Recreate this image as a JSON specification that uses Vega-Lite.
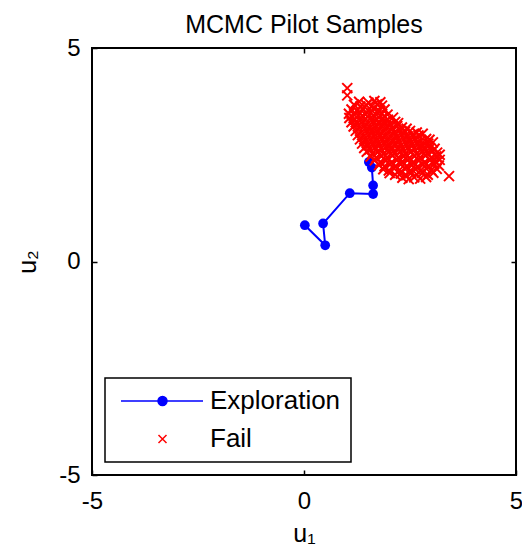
{
  "$schema": "https://vega.github.io/schema/vega-lite/v6.json",
  "width": 424,
  "height": 427,
  "autosize": {"type": "none"},
  "padding": {"left": 92, "top": 48, "right": 6, "bottom": 79},
  "background": "white",
  "title": {
    "text": "MCMC Pilot Samples",
    "fontSize": 25,
    "fontWeight": "normal",
    "font": "Liberation Sans",
    "color": "black",
    "anchor": "middle",
    "frame": "group",
    "offset": -2
  },
  "config": {
    "font": "Liberation Sans",
    "view": {"stroke": "black", "strokeWidth": 2},
    "axis": {
      "domain": false,
      "grid": false,
      "tickColor": "black",
      "tickWidth": 1.5,
      "tickSize": -5,
      "labelFont": "Liberation Sans",
      "labelFontSize": 24,
      "labelColor": "black",
      "labelFlush": false,
      "labelPadding": 17,
      "labelExpr": "replace(datum.label, '\u2212', '-')",
      "titleFont": "Liberation Sans",
      "titleFontSize": 25,
      "titleFontWeight": "normal",
      "titleColor": "black"
    },
    "legend": {
      "orient": "bottom-left",
      "offset": 13,
      "padding": 10,
      "fillColor": "white",
      "strokeColor": "black",
      "strokeWidth": 1.5,
      "labelFont": "Liberation Sans",
      "labelFontSize": 26,
      "labelColor": "black",
      "labelOffset": 69,
      "rowPadding": 12,
      "symbolOpacity": 1,
      "symbolStrokeWidth": 1.5
    }
  },
  "datasets": {
    "exploration": [
      {"step": 1, "u1": 0.02, "u2": 0.85},
      {"step": 2, "u1": 0.5, "u2": 0.38},
      {"step": 3, "u1": 0.45, "u2": 0.89},
      {"step": 4, "u1": 1.08, "u2": 1.6},
      {"step": 5, "u1": 1.63, "u2": 1.58},
      {"step": 6, "u1": 1.63, "u2": 1.78},
      {"step": 7, "u1": 1.6, "u2": 2.2},
      {"step": 8, "u1": 1.53, "u2": 2.33}
    ],
    "fail": [
      {"u1": 1.02, "u2": 4.06}, {"u1": 1.02, "u2": 3.89}, {"u1": 3.42, "u2": 2.0},
      {"u1": 2.32, "u2": 1.96}, {"u1": 2.47, "u2": 1.93}, {"u1": 2.6, "u2": 1.97}, {"u1": 2.74, "u2": 1.94}, {"u1": 2.88, "u2": 1.98},
      {"u1": 2.02, "u2": 2.07}, {"u1": 2.15, "u2": 2.03}, {"u1": 2.28, "u2": 2.06}, {"u1": 2.41, "u2": 2.02}, {"u1": 2.53, "u2": 2.08}, {"u1": 2.66, "u2": 2.04}, {"u1": 2.79, "u2": 2.07}, {"u1": 2.92, "u2": 2.03}, {"u1": 3.05, "u2": 2.08},
      {"u1": 1.87, "u2": 2.16}, {"u1": 2.0, "u2": 2.13}, {"u1": 2.12, "u2": 2.18}, {"u1": 2.25, "u2": 2.14}, {"u1": 2.38, "u2": 2.17}, {"u1": 2.5, "u2": 2.12}, {"u1": 2.63, "u2": 2.16}, {"u1": 2.75, "u2": 2.13}, {"u1": 2.88, "u2": 2.18}, {"u1": 3.0, "u2": 2.14}, {"u1": 3.13, "u2": 2.17},
      {"u1": 1.77, "u2": 2.26}, {"u1": 1.9, "u2": 2.23}, {"u1": 2.03, "u2": 2.27}, {"u1": 2.16, "u2": 2.24}, {"u1": 2.29, "u2": 2.28}, {"u1": 2.42, "u2": 2.23}, {"u1": 2.55, "u2": 2.26}, {"u1": 2.68, "u2": 2.22}, {"u1": 2.81, "u2": 2.27}, {"u1": 2.94, "u2": 2.24}, {"u1": 3.07, "u2": 2.28}, {"u1": 3.18, "u2": 2.25},
      {"u1": 1.67, "u2": 2.37}, {"u1": 1.8, "u2": 2.33}, {"u1": 1.93, "u2": 2.36}, {"u1": 2.06, "u2": 2.32}, {"u1": 2.19, "u2": 2.37}, {"u1": 2.32, "u2": 2.34}, {"u1": 2.45, "u2": 2.38}, {"u1": 2.58, "u2": 2.33}, {"u1": 2.71, "u2": 2.36}, {"u1": 2.84, "u2": 2.32}, {"u1": 2.97, "u2": 2.37}, {"u1": 3.1, "u2": 2.34}, {"u1": 3.2, "u2": 2.38},
      {"u1": 1.57, "u2": 2.46}, {"u1": 1.7, "u2": 2.43}, {"u1": 1.83, "u2": 2.47}, {"u1": 1.96, "u2": 2.44}, {"u1": 2.09, "u2": 2.48}, {"u1": 2.22, "u2": 2.43}, {"u1": 2.35, "u2": 2.46}, {"u1": 2.48, "u2": 2.42}, {"u1": 2.61, "u2": 2.47}, {"u1": 2.74, "u2": 2.44}, {"u1": 2.87, "u2": 2.48}, {"u1": 3.0, "u2": 2.43}, {"u1": 3.12, "u2": 2.46}, {"u1": 3.2, "u2": 2.5},
      {"u1": 1.48, "u2": 2.57}, {"u1": 1.61, "u2": 2.53}, {"u1": 1.74, "u2": 2.56}, {"u1": 1.87, "u2": 2.52}, {"u1": 2.0, "u2": 2.57}, {"u1": 2.13, "u2": 2.54}, {"u1": 2.26, "u2": 2.58}, {"u1": 2.39, "u2": 2.53}, {"u1": 2.52, "u2": 2.56}, {"u1": 2.65, "u2": 2.52}, {"u1": 2.78, "u2": 2.57}, {"u1": 2.91, "u2": 2.54}, {"u1": 3.03, "u2": 2.58}, {"u1": 3.14, "u2": 2.55},
      {"u1": 1.42, "u2": 2.66}, {"u1": 1.55, "u2": 2.63}, {"u1": 1.68, "u2": 2.67}, {"u1": 1.81, "u2": 2.64}, {"u1": 1.94, "u2": 2.68}, {"u1": 2.07, "u2": 2.63}, {"u1": 2.2, "u2": 2.66}, {"u1": 2.33, "u2": 2.62}, {"u1": 2.46, "u2": 2.67}, {"u1": 2.59, "u2": 2.64}, {"u1": 2.72, "u2": 2.68}, {"u1": 2.85, "u2": 2.63}, {"u1": 2.97, "u2": 2.66}, {"u1": 3.08, "u2": 2.64},
      {"u1": 1.37, "u2": 2.76}, {"u1": 1.5, "u2": 2.73}, {"u1": 1.63, "u2": 2.77}, {"u1": 1.76, "u2": 2.74}, {"u1": 1.89, "u2": 2.78}, {"u1": 2.02, "u2": 2.73}, {"u1": 2.15, "u2": 2.76}, {"u1": 2.28, "u2": 2.72}, {"u1": 2.41, "u2": 2.77}, {"u1": 2.54, "u2": 2.74}, {"u1": 2.67, "u2": 2.78}, {"u1": 2.8, "u2": 2.73}, {"u1": 2.93, "u2": 2.76}, {"u1": 3.04, "u2": 2.79},
      {"u1": 1.32, "u2": 2.86}, {"u1": 1.45, "u2": 2.83}, {"u1": 1.58, "u2": 2.87}, {"u1": 1.71, "u2": 2.84}, {"u1": 1.84, "u2": 2.88}, {"u1": 1.97, "u2": 2.83}, {"u1": 2.1, "u2": 2.86}, {"u1": 2.23, "u2": 2.82}, {"u1": 2.36, "u2": 2.87}, {"u1": 2.49, "u2": 2.84}, {"u1": 2.62, "u2": 2.88}, {"u1": 2.75, "u2": 2.83}, {"u1": 2.88, "u2": 2.87}, {"u1": 2.96, "u2": 2.85},
      {"u1": 1.27, "u2": 2.96}, {"u1": 1.4, "u2": 2.93}, {"u1": 1.53, "u2": 2.97}, {"u1": 1.66, "u2": 2.94}, {"u1": 1.79, "u2": 2.98}, {"u1": 1.92, "u2": 2.93}, {"u1": 2.05, "u2": 2.96}, {"u1": 2.18, "u2": 2.92}, {"u1": 2.31, "u2": 2.97}, {"u1": 2.44, "u2": 2.94}, {"u1": 2.57, "u2": 2.98}, {"u1": 2.7, "u2": 2.95}, {"u1": 2.8, "u2": 2.99},
      {"u1": 1.22, "u2": 3.06}, {"u1": 1.35, "u2": 3.03}, {"u1": 1.48, "u2": 3.07}, {"u1": 1.61, "u2": 3.04}, {"u1": 1.74, "u2": 3.08}, {"u1": 1.87, "u2": 3.03}, {"u1": 2.0, "u2": 3.06}, {"u1": 2.13, "u2": 3.02}, {"u1": 2.26, "u2": 3.07}, {"u1": 2.38, "u2": 3.04}, {"u1": 2.5, "u2": 3.06}, {"u1": 2.66, "u2": 3.02},
      {"u1": 1.17, "u2": 3.16}, {"u1": 1.3, "u2": 3.13}, {"u1": 1.43, "u2": 3.17}, {"u1": 1.56, "u2": 3.14}, {"u1": 1.69, "u2": 3.18}, {"u1": 1.82, "u2": 3.13}, {"u1": 1.95, "u2": 3.16}, {"u1": 2.08, "u2": 3.12}, {"u1": 2.2, "u2": 3.17}, {"u1": 2.31, "u2": 3.14}, {"u1": 2.42, "u2": 3.11},
      {"u1": 1.12, "u2": 3.26}, {"u1": 1.25, "u2": 3.23}, {"u1": 1.38, "u2": 3.27}, {"u1": 1.51, "u2": 3.24}, {"u1": 1.64, "u2": 3.28}, {"u1": 1.77, "u2": 3.23}, {"u1": 1.9, "u2": 3.26}, {"u1": 2.03, "u2": 3.22}, {"u1": 2.15, "u2": 3.27}, {"u1": 2.22, "u2": 3.24},
      {"u1": 1.07, "u2": 3.36}, {"u1": 1.2, "u2": 3.33}, {"u1": 1.33, "u2": 3.37}, {"u1": 1.46, "u2": 3.34}, {"u1": 1.59, "u2": 3.38}, {"u1": 1.72, "u2": 3.33}, {"u1": 1.85, "u2": 3.36}, {"u1": 1.98, "u2": 3.32}, {"u1": 2.1, "u2": 3.37},
      {"u1": 1.06, "u2": 3.46}, {"u1": 1.19, "u2": 3.43}, {"u1": 1.32, "u2": 3.47}, {"u1": 1.45, "u2": 3.44}, {"u1": 1.58, "u2": 3.48}, {"u1": 1.71, "u2": 3.43}, {"u1": 1.84, "u2": 3.46}, {"u1": 1.97, "u2": 3.44},
      {"u1": 1.12, "u2": 3.56}, {"u1": 1.25, "u2": 3.53}, {"u1": 1.38, "u2": 3.57}, {"u1": 1.51, "u2": 3.54}, {"u1": 1.64, "u2": 3.58}, {"u1": 1.77, "u2": 3.53}, {"u1": 1.9, "u2": 3.56},
      {"u1": 1.18, "u2": 3.67}, {"u1": 1.33, "u2": 3.63}, {"u1": 1.47, "u2": 3.66}, {"u1": 1.6, "u2": 3.64}, {"u1": 1.72, "u2": 3.68}, {"u1": 1.84, "u2": 3.65},
      {"u1": 1.3, "u2": 3.74}, {"u1": 1.52, "u2": 3.72}, {"u1": 1.66, "u2": 3.76}, {"u1": 1.8, "u2": 3.73}
    ],
    "series": [
      {"series": "Exploration"},
      {"series": "Fail"}
    ]
  },
  "layer": [
    {
      "data": {"name": "exploration"},
      "mark": {"type": "line", "color": "#0000ff", "strokeWidth": 2},
      "encoding": {
        "x": {
          "field": "u1", "type": "quantitative",
          "scale": {"domain": [-5, 5], "nice": false, "zero": false},
          "axis": {"orient": "bottom", "values": [-5, 0, 5], "title": "u₁", "titlePadding": 8, "labelPadding": 19}
        },
        "y": {
          "field": "u2", "type": "quantitative",
          "scale": {"domain": [-5, 5], "nice": false, "zero": false},
          "axis": {"orient": "left", "values": [-5, 0, 5], "title": "u₂", "titlePadding": 18}
        },
        "order": {"field": "step", "type": "quantitative"}
      }
    },
    {
      "data": {"name": "exploration"},
      "mark": {"type": "point", "shape": "circle", "filled": true, "color": "#0000ff", "size": 95, "opacity": 1},
      "encoding": {
        "x": {
          "field": "u1", "type": "quantitative",
          "axis": {"orient": "top", "values": [0], "labels": false, "title": null, "minExtent": 0, "maxExtent": 0}
        },
        "y": {
          "field": "u2", "type": "quantitative",
          "axis": {"orient": "right", "values": [0], "labels": false, "title": null, "minExtent": 0, "maxExtent": 0}
        }
      }
    },
    {
      "data": {"name": "fail"},
      "mark": {
        "type": "point",
        "shape": "M-1,-1L1,1M-1,1L1,-1",
        "filled": false,
        "color": "#ff0000",
        "size": 100,
        "strokeWidth": 2,
        "opacity": 1
      },
      "encoding": {
        "x": {"field": "u1", "type": "quantitative", "axis": null},
        "y": {"field": "u2", "type": "quantitative", "axis": null}
      }
    },
    {
      "data": {"name": "series"},
      "mark": {"type": "point", "filled": true, "size": 100, "opacity": 0, "strokeWidth": 1.5},
      "encoding": {
        "fill": {
          "field": "series", "type": "nominal",
          "scale": {"domain": ["Exploration", "Fail"], "range": ["#0000ff", "#ff0000"]},
          "legend": {"title": null}
        },
        "stroke": {
          "field": "series", "type": "nominal",
          "scale": {"domain": ["Exploration", "Fail"], "range": ["#0000ff", "#ff0000"]},
          "legend": {"title": null}
        },
        "shape": {
          "field": "series", "type": "nominal",
          "scale": {
            "domain": ["Exploration", "Fail"],
            "range": [
              "M-1.4,0H15M7.8,0A0.9,0.9,0,1,1,6,0A0.9,0.9,0,1,1,7.8,0Z",
              "M6.1,-0.8L7.7,0.8M6.1,0.8L7.7,-0.8"
            ]
          },
          "legend": {"title": null}
        }
      }
    }
  ],
  "resolve": {"axis": {"x": "independent", "y": "independent"}}
}
